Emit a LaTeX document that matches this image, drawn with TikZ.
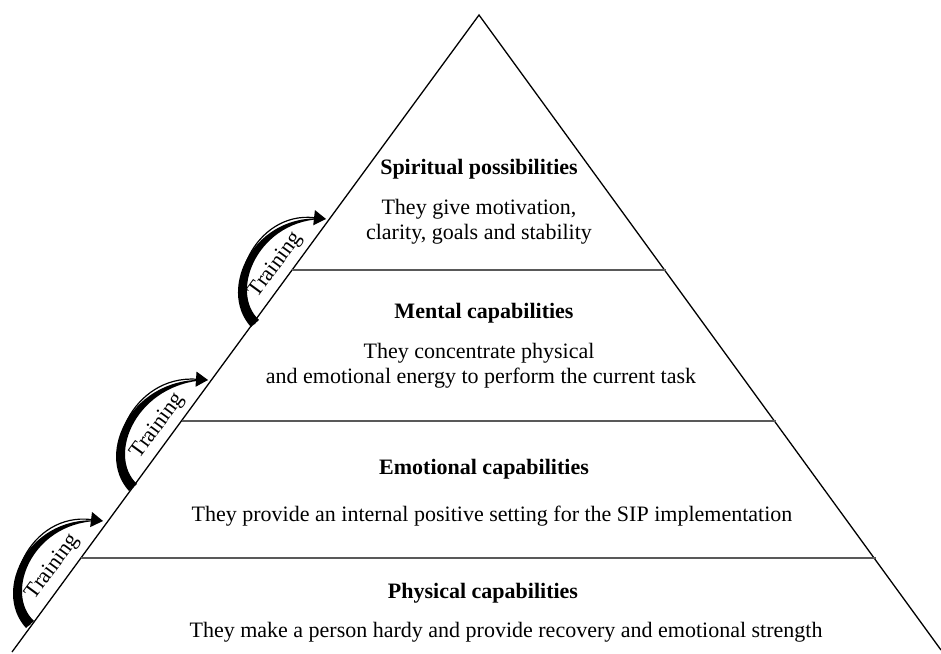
\documentclass[tikz,border=0pt]{standalone}
\usepackage{fontspec}
\setmainfont{Liberation Serif}
\usetikzlibrary{arrows.meta,calc}
\begin{document}
\begin{tikzpicture}[x=1pt,y=-1pt,
  edge/.style={line width=1.3pt,black},
  divider/.style={line width=1.8pt,black!65},
  title/.style={font=\fontsize{22}{26}\selectfont\bfseries,anchor=base},
  body/.style={font=\fontsize{22}{26}\selectfont,anchor=base,align=center},
  trainarrow/.style={line width=1.2pt,-{Triangle[length=12pt,width=15pt]}},
  crescent/.style={fill=black},
  trainlabel/.style={font=\fontsize{22}{26}\selectfont,rotate=53.7}]
\useasboundingbox (0,0) rectangle (941,653);
% triangle
\coordinate (apex) at (479,15);
\coordinate (bl) at (12,652);
\coordinate (br) at (941,650);
\draw[edge] (bl) -- (apex) -- (br);
% dividers
\coordinate (l1) at (292,270); \coordinate (r1) at (666,270);
\coordinate (l2) at (182,421); \coordinate (r2) at (776,421);
\coordinate (l3) at (81,558);  \coordinate (r3) at (876,558);
\draw[divider] (l1) -- (r1);
\draw[divider] (l2) -- (r2);
\draw[divider] (l3) -- (r3);
% texts
\node[title] (s) at (479,174) {Spiritual possibilities};
\node[body] (sb1) at (479,214) {They give motivation,};
\node[body] (sb2) at (479,239) {clarity, goals and stability};
\node[title] (m) at (484,318) {Mental capabilities};
\node[body] (mb1) at (479,358) {They concentrate physical};
\node[body] (mb2) at (481,383) {and emotional energy to perform the current task};
\node[title] (e) at (484,474) {Emotional capabilities};
\node[body] (eb) at (492,521) {They provide an internal positive setting for the SIP implementation};
\node[title] (p) at (483,598) {Physical capabilities};
\node[body] (pb) at (506,637) {They make a person hardy and provide recovery and emotional strength};
% training arrows: start S, tip T
\foreach \sx/\sy/\tx/\ty/\n in {30/625/103/521/1, 133/488/208/380/2, 255/324/326/219/3}{
  \coordinate (a\n s) at (\sx,\sy);
  \coordinate (a\n e) at (\tx,\ty);
  \fill[crescent] ($(a\n s)+(-4,3)$) .. controls ($(a\n s)+(-39,-35)$) and ($(a\n s)+(0,-113)$) .. (a\n e)
    .. controls ($(a\n s)+(4,-106)$) and ($(a\n s)+(-27,-33)$) .. ($(a\n s)+(4,-4)$) -- cycle;
  \draw[trainarrow] (a\n s) .. controls ($(a\n s)+(-35,-35)$) and ($(a\n s)+(0,-113)$) .. (a\n e);
}
\node[trainlabel] (t1) at (53,567) {Training};
\node[trainlabel] (t2) at (158,426) {Training};
\node[trainlabel] (t3) at (276,265) {Training};
\end{tikzpicture}
\end{document}
